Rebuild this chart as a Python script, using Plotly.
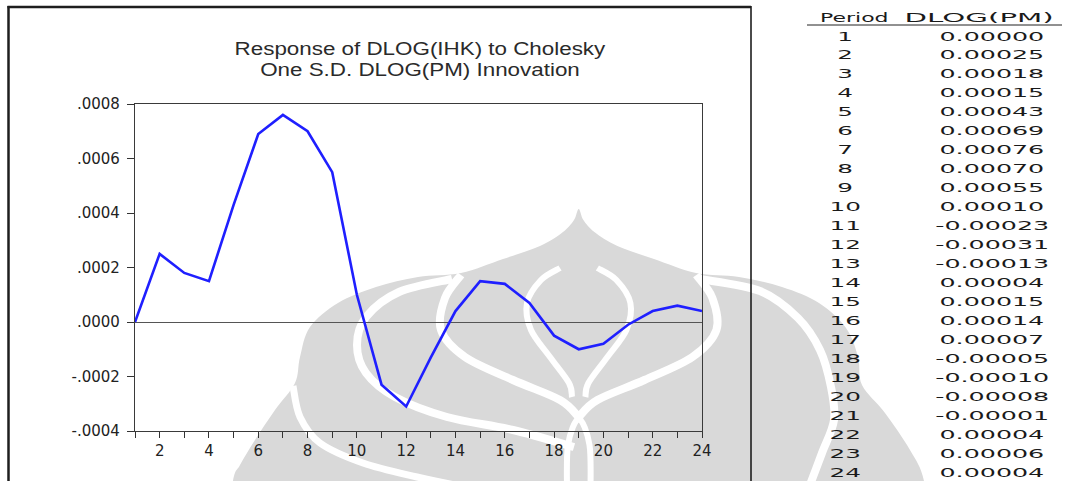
import json
import plotly.graph_objects as go

# ---- data -------------------------------------------------------------
periods = list(range(1, 25))
response = [0.00000, 0.00025, 0.00018, 0.00015, 0.00043, 0.00069, 0.00076,
            0.00070, 0.00055, 0.00010, -0.00023, -0.00031, -0.00013, 0.00004,
            0.00015, 0.00014, 0.00007, -0.00005, -0.00010, -0.00008, -0.00001,
            0.00004, 0.00006, 0.00004]
x_tick_text = [str(p) if p % 2 == 0 else "" for p in periods]
y_tick_vals = [-0.0004, -0.0002, 0.0, 0.0002, 0.0004, 0.0006, 0.0008]
y_tick_text = ["-.0004", "-.0002", ".0000", ".0002", ".0004", ".0006", ".0008"]
title_lines = ["Response of DLOG(IHK) to Cholesky", "One S.D. DLOG(PM) Innovation"]
table_header = ["Period", "DLOG(PM)"]

# ---- page geometry (pixels) --------------------------------------------
W, H = 1073, 481
L, R, T, B = 135, 702, 104, 431          # plot area box


def px(x):
    return (x - L) / (R - L)


def py(y):
    return (B - y) / (B - T)


def smooth_path(pts, closed=False):
    """Catmull-Rom spline through pixel points, as an SVG path in paper units."""
    P = [(px(x), py(y)) for x, y in pts]
    n = len(P)
    if closed:
        get = lambda i: P[i % n]
        segs = range(n)
    else:
        get = lambda i: P[min(max(i, 0), n - 1)]
        segs = range(n - 1)
    d = f"M {P[0][0]:.5f},{P[0][1]:.5f}"
    for i in segs:
        p0, p1, p2, p3 = get(i - 1), get(i), get(i + 1), get(i + 2)
        c1 = (p1[0] + (p2[0] - p0[0]) / 6, p1[1] + (p2[1] - p0[1]) / 6)
        c2 = (p2[0] - (p3[0] - p1[0]) / 6, p2[1] - (p3[1] - p1[1]) / 6)
        d += (f" C {c1[0]:.5f},{c1[1]:.5f} {c2[0]:.5f},{c2[1]:.5f}"
              f" {p2[0]:.5f},{p2[1]:.5f}")
    if closed:
        d += " Z"
    return d


def mirror(pts, cx=578.7):
    return [(2 * cx - x, y) for x, y in pts]


shapes = []

# ---- faint emblem in the background ------------------------------------
GREY = "rgb(217,217,217)"
outline_left = [(233, 481), (240, 465), (255, 440), (275, 410), (295, 383),
                (300, 357), (310, 327), (338, 303), (376, 287), (418, 277),
                (461, 273), (503, 259), (540, 246), (563, 232), (574, 220),
                (578.7, 209)]
outline_right = [(583.4, 220), (594.4, 232), (617.4, 246), (654, 259),
                 (696, 273), (739, 277), (782, 287), (819, 303), (846, 328),
                 (858, 357), (862, 385), (885, 413), (910, 450), (924, 481)]
silhouette = [(226, 540)] + outline_left + outline_right + [(930, 540)]
shapes.append(dict(type="path", xref="paper", yref="paper", layer="below",
                   path=smooth_path(silhouette, closed=True),
                   fillcolor=GREY, line=dict(width=0)))

inner_left = [(461, 275), (445, 298), (441, 330), (465, 357), (513, 380),
              (560, 400), (578.7, 417)]
outer_left = [(452, 279), (399, 292), (366, 317), (357, 345), (366, 373),
              (395, 397), (447, 417), (513, 430), (574, 447)]
low_left = [(293, 386), (300, 417), (320, 443), (363, 463), (417, 477), (470, 488)]
outer_right = [(700, 279), (760, 291), (798, 318), (820, 350), (831, 387),
               (834, 420), (822, 453), (808, 490)]
petal_left = [(560, 268), (541, 280), (527, 303), (531, 330), (550, 357),
              (569, 383), (572, 397)]
arch = [(567, 492), (568, 445), (578.7, 419), (589.5, 445), (590.5, 492)]

bands = [
    (inner_left, 8), (mirror(inner_left), 8),
    (outer_left, 8), (outer_right, 8),
    (low_left, 7),
    (petal_left, 6), (mirror(petal_left), 6),
    (arch, 6),
]
for pts, w in bands:
    shapes.append(dict(type="path", xref="paper", yref="paper", layer="below",
                       path=smooth_path(pts), line=dict(color="white", width=w)))

# ---- page frame and table rule -----------------------------------------
FRAME = "#1e1e1e"
shapes += [
    dict(type="line", xref="paper", yref="paper", x0=px(8.5), x1=px(8.5),
         y0=py(6), y1=py(490), line=dict(color=FRAME, width=2.5)),
    dict(type="line", xref="paper", yref="paper", x0=px(7.5), x1=px(751),
         y0=py(7), y1=py(7), line=dict(color=FRAME, width=2.5)),
    dict(type="line", xref="paper", yref="paper", x0=px(751), x1=px(751),
         y0=py(6), y1=py(490), line=dict(color=FRAME, width=1.6)),
    dict(type="line", xref="paper", yref="paper", x0=px(807), x1=px(1062),
         y0=py(25), y1=py(25), line=dict(color="#222", width=1)),
]

# ---- text (each annotation carries a horizontal stretch factor) ---------
annotations, stretch = [], []


def add_text(text, xc, yc, font, sx):
    annotations.append(dict(text=text, xref="paper", yref="paper",
                            x=px(xc), y=py(yc), xanchor="center",
                            yanchor="middle", showarrow=False, font=font))
    stretch.append(sx)


TITLE_FONT = dict(family="Liberation Sans, Arial, sans-serif", size=17.5, color="#2a2a2a")
for text, yc in zip(title_lines, [49, 70]):
    add_text(text, 419.5, yc, TITLE_FONT, 1.28)

TABLE_FONT = dict(family="DejaVu Sans", size=13, color="#1a1a1a")
COL_PERIOD, COL_VALUE = 845, 992
HEADER_Y, ROW0_Y, ROW_STEP = 17.5, 36, 18.98
add_text(table_header[0], 854, HEADER_Y, TABLE_FONT, 1.69)
add_text(table_header[1], 979, HEADER_Y, TABLE_FONT, 2.25)
for i, (p, v) in enumerate(zip(periods, response)):
    yc = ROW0_Y + i * ROW_STEP
    add_text(str(p), COL_PERIOD, yc, TABLE_FONT, 1.9)
    add_text(f"{v:.5f}", COL_VALUE, yc, TABLE_FONT, 1.95)

# ---- figure ------------------------------------------------------------
fig = go.Figure(go.Scatter(x=periods, y=response, mode="lines",
                           line=dict(color="#1f1fff", width=2.6),
                           hoverinfo="skip"))

AXIS_FONT = dict(family="DejaVu Sans", size=15, color="#222")
fig.update_layout(
    width=W, height=H,
    margin=dict(l=L, r=W - R, t=T, b=H - B, pad=0),
    paper_bgcolor="white", plot_bgcolor="rgba(0,0,0,0)",
    showlegend=False,
    shapes=shapes, annotations=annotations,
    xaxis=dict(range=[1, 24], tickmode="array", tickvals=periods,
               ticktext=x_tick_text, ticks="outside", ticklen=6, tickwidth=1,
               tickcolor="#333", showline=True, linecolor="#3a3a3a",
               linewidth=1.3, mirror=True, showgrid=False, zeroline=False,
               tickfont=AXIS_FONT, fixedrange=True),
    yaxis=dict(range=[-0.0004, 0.0008], tickmode="array", tickvals=y_tick_vals,
               ticktext=y_tick_text, ticks="outside", ticklen=7, tickwidth=1,
               tickcolor="#333", showline=True, linecolor="#3a3a3a",
               linewidth=1.3, mirror=True, showgrid=False, zeroline=True,
               zerolinecolor="#555", zerolinewidth=1, tickfont=AXIS_FONT,
               ticklabelstandoff=4, fixedrange=True),
)

# Widen the annotation glyphs about their own centres (extended lettering).
stretch_js = """
var gd = document.getElementById('{plot_id}');
var k = %s;
gd.querySelectorAll('g.annotation').forEach(function (g, n) {
  var i = g.hasAttribute('data-index') ? +g.getAttribute('data-index') : n;
  var s = k[i];
  if (!s || s === 1) return;
  var t = g.querySelector('text.annotation-text');
  if (!t) return;
  t.style.transformBox = 'fill-box';
  t.style.transformOrigin = 'center';
  t.style.transform = 'scaleX(' + s + ')';
});
""" % json.dumps(stretch)

fig.write_html("out.html", post_script=stretch_js)
